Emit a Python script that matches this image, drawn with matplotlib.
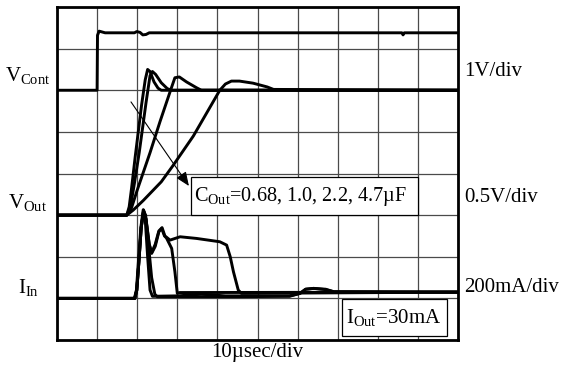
import matplotlib
matplotlib.use("Agg")
import matplotlib.pyplot as plt
from matplotlib.patches import Rectangle

plt.rcParams['font.family'] = ['Liberation Serif', 'DejaVu Serif']
plt.rcParams['mathtext.fontset'] = 'custom'
plt.rcParams['mathtext.rm'] = 'Liberation Serif'
plt.rcParams['mathtext.it'] = 'Liberation Serif:italic'

# Time axis in microseconds (10 us/div), vertical axis in screen divisions
# Control voltage (1 V/div)
vcont_t = [0, 10.0, 10.1, 10.5, 12.0, 19.3, 19.9, 20.7, 21.4, 22.2, 23.0, 86.0, 86.3, 86.6, 100]
vcont_v = [6.0, 6.0, 7.32, 7.42, 7.38, 7.38, 7.41, 7.39, 7.33, 7.34, 7.38, 7.38, 7.33, 7.38, 7.38]

# Output voltage (0.5 V/div) for C_out = 0.68, 1.0, 2.2, 4.7 uF
vout1_t = [0, 17.4, 18.0, 18.6, 19.5, 21.1, 22.0, 22.6, 23.2, 24.2, 25.2, 26.0, 100]
vout1_v = [3.0, 3.0, 3.2, 3.65, 4.4, 5.65, 6.25, 6.5, 6.45, 6.2, 6.05, 6.0, 6.0]

vout2_t = [0, 17.4, 18.3, 19.2, 20.5, 22.2, 23.2, 23.8, 24.6, 26.0, 27.5, 28.5, 100]
vout2_v = [3.0, 3.0, 3.2, 3.7, 4.5, 5.7, 6.35, 6.45, 6.38, 6.18, 6.04, 6.0, 6.0]

vout3_t = [0, 17.4, 18.5, 20.0, 23.2, 25.7, 28.5, 29.4, 30.5, 32.3, 34.8, 36.0, 100]
vout3_v = [3.0, 3.0, 3.15, 3.6, 4.5, 5.25, 6.05, 6.3, 6.32, 6.2, 6.06, 6.0, 6.0]

vout4_t = [0, 17.4, 19.0, 21.5, 26.0, 29.0, 34.0, 40.6, 42.0, 43.5, 45.5, 48.9, 52.4, 54.0, 100]
vout4_v = [3.0, 3.0, 3.12, 3.35, 3.8, 4.2, 4.9, 6.0, 6.15, 6.22, 6.22, 6.17, 6.08, 6.02, 6.0]

# Input current (200 mA/div)
iin1_t = [0, 19.3, 19.8, 20.3, 20.9, 21.5, 22.0, 22.6, 23.2, 23.8, 30.0, 36.0, 42.0, 58.0, 60.6, 62.0, 64.0, 67.0, 69.0, 100]
iin1_v = [1.0, 1.0, 1.2, 1.88, 2.7, 3.13, 2.9, 2.0, 1.2, 1.05, 1.06, 1.1, 1.06, 1.06, 1.12, 1.22, 1.24, 1.22, 1.16, 1.15]

iin2_t = [0, 19.4, 19.9, 20.4, 21.0, 21.6, 22.1, 22.8, 23.6, 24.4, 25.0, 45.0, 58.0, 60.6, 62.0, 64.0, 67.0, 69.0, 100]
iin2_v = [1.0, 1.0, 1.2, 1.85, 2.7, 3.1, 3.0, 2.3, 1.5, 1.1, 1.04, 1.04, 1.05, 1.12, 1.22, 1.24, 1.21, 1.16, 1.15]

iin3_t = [0, 19.4, 19.9, 20.4, 21.0, 21.6, 22.2, 23.0, 23.6, 24.5, 25.4, 26.1, 26.8, 27.3, 28.6, 29.4, 30.0, 30.6, 100]
iin3_v = [1.0, 1.0, 1.2, 1.85, 2.7, 3.1, 2.9, 2.3, 2.08, 2.25, 2.6, 2.68, 2.5, 2.45, 2.2, 1.64, 1.12, 1.14, 1.15]

iin4_t = [0, 19.4, 19.9, 20.4, 21.0, 21.6, 22.2, 23.0, 23.6, 24.5, 25.4, 26.2, 26.9, 28.2, 30.7, 34.8, 40.6, 42.3, 43.2, 44.0, 45.2, 46.0, 100]
iin4_v = [1.0, 1.0, 1.2, 1.85, 2.7, 3.12, 2.9, 2.3, 2.1, 2.3, 2.62, 2.7, 2.5, 2.4, 2.48, 2.44, 2.36, 2.28, 2.0, 1.64, 1.2, 1.12, 1.15]

traces = [
    (vcont_t, vcont_v),
    (vout1_t, vout1_v), (vout2_t, vout2_v), (vout3_t, vout3_v), (vout4_t, vout4_v),
    (iin1_t, iin1_v), (iin2_t, iin2_v), (iin3_t, iin3_v), (iin4_t, iin4_v),
]

W, H = 562, 367
FS = 15
fig = plt.figure(figsize=(W / 100, H / 100), dpi=100)
ax = fig.add_axes([57 / W, 27 / H, 401 / W, 333 / H])
ax.set_xlim(0, 100)
ax.set_ylim(0, 8)
ax.set_xticks(range(0, 101, 10))
ax.set_yticks(range(0, 9))
ax.grid(True, color='#4a4a4a', lw=0.9)
ax.set_axisbelow(True)
ax.tick_params(length=0, labelbottom=False, labelleft=False)
for s in ax.spines.values():
    s.set_linewidth(2.0)

for t, v in traces:
    ax.plot(t, v, color='black', lw=2.1, solid_joinstyle='round', zorder=3)

# Capacitor annotation box and arrow
ax.add_patch(Rectangle((33.4, 3.0), 56.6, 0.92, facecolor='white',
                       edgecolor='black', lw=0.9, zorder=4))
ax.text(34.1, 3.44, 'C$_{\\mathrm{Out}}$=0.68, 1.0, 2.2, 4.7µF', fontsize=14.6,
        va='center', ha='left', zorder=5)
ax.annotate('', xy=(32.9, 3.70), xytext=(18.45, 5.72),
            arrowprops=dict(arrowstyle='-|>,head_length=0.6,head_width=0.25',
                            mutation_scale=14, lw=0.8, color='black',
                            shrinkA=0, shrinkB=0), zorder=5)

# Load current box
ax.add_patch(Rectangle((71.1, 0.1), 26.2, 0.89, facecolor='white',
                       edgecolor='black', lw=0.9, zorder=4))
ax.text(83.9, 0.55, 'I$_{\\mathrm{Out}}$=30mA', fontsize=FS,
        va='center', ha='center', zorder=5)


def ftext(x, y, s, **kw):
    fig.text(x / W, 1 - y / H, s, fontsize=FS, va='center', **kw)


ftext(28, 76, 'V$_{\\mathrm{Cont}}$', ha='center')
ftext(27, 203, 'V$_{\\mathrm{Out}}$', ha='center')
ftext(29, 288, 'I$_{\\mathrm{In}}$', ha='center')
ftext(464, 71, '1V/div', ha='left')
ftext(464, 198, '0.5V/div', ha='left')
ftext(464, 288, '200mA/div', ha='left')
ftext(257, 353, '10µsec/div', ha='center')

fig.savefig('out.png', dpi=100)
